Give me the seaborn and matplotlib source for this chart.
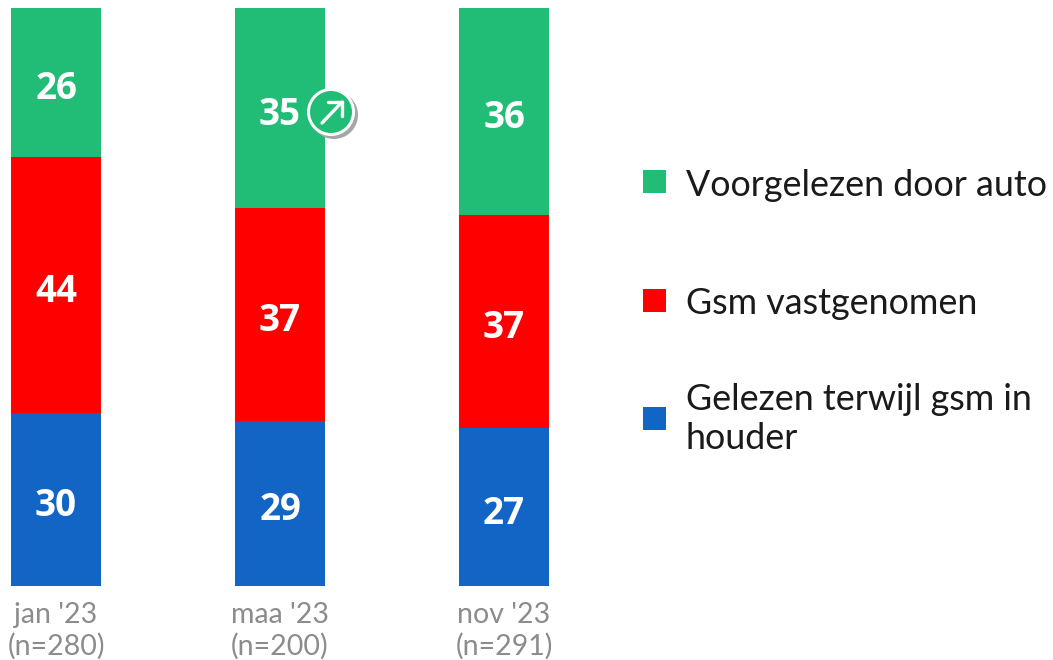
import matplotlib
matplotlib.use("Agg")
import matplotlib.pyplot as plt
import seaborn as sns
import pandas as pd
from matplotlib.patches import Circle, Rectangle

periods = ["jan '23\n(n=280)", "maa '23\n(n=200)", "nov '23\n(n=291)"]
gelezen = [29.9, 28.6, 27.3]
gsm = [44.4, 36.8, 36.9]
auto = [25.7, 34.6, 35.8]
series_names = ["Gelezen terwijl gsm in\nhouder", "Gsm vastgenomen", "Voorgelezen door auto"]
colors = ["#1265C4", "#FF0000", "#21BD76"]

sns.set_theme(style="white")
plt.rcParams['font.family'] = ['Lato', 'DejaVu Sans']

W, H = 1053, 660
fig = plt.figure(figsize=(W/100, H/100), dpi=100)
ax = fig.add_axes([0, 1-586/H, 1, 578/H])
ax.set_facecolor("none")

df = pd.DataFrame({"period": periods, series_names[0]: gelezen, series_names[1]: gsm, series_names[2]: auto})
bottom = [0, 0, 0]
for name, col in zip(series_names, colors):
    sns.barplot(data=df, x="period", y=name, color=col, bottom=bottom, ax=ax,
                width=0.4, saturation=1, errorbar=None, linewidth=0)
    vals = df[name].tolist()
    for i, v in enumerate(vals):
        ax.text(i, bottom[i] + v/2 - 1.15, f"{v:.0f}", ha="center", va="center", color="white",
                fontsize=26.5, fontweight="bold", family=["Open Sans", "DejaVu Sans"])
    bottom = [b + v for b, v in zip(bottom, vals)]

ax.set_xlim(-56/224, (W-56)/224)
ax.set_ylim(0, 100)
ax.set_xlabel(""); ax.set_ylabel("")
ax.set_yticks([])
ax.tick_params(axis="x", length=0, pad=11.5, labelsize=20.5, labelcolor="#8C8C8C")
for lab in ax.get_xticklabels():
    lab.set_linespacing(1.22)
sns.despine(ax=ax, left=True, bottom=True)

ov = fig.add_axes([0, 0, 1, 1])
ov.set_xlim(0, W); ov.set_ylim(H, 0); ov.axis("off"); ov.patch.set_alpha(0)

legend_rows = [(181, series_names[2], colors[2], 185),
               (300, series_names[1], colors[1], 303),
               (418, series_names[0], colors[0], 419)]
for y, label, col, ty in legend_rows:
    ov.add_patch(Rectangle((643, y-11.5), 23, 23, color=col, lw=0))
    ov.text(686, ty, label, ha="left", va="center", fontsize=25.8, color="#1A1A1A", linespacing=1.24)

cx, cy = 331, 112
ov.add_patch(Circle((cx+3, cy+3), 24, color="#A6A6A6", lw=0))
ov.add_patch(Circle((cx, cy), 24, color="white", lw=0))
ov.add_patch(Circle((cx, cy), 21, color="#21BD76", lw=0))
ov.plot([cx-9, cx+11], [cy+11, cy-10], color="white", lw=2.4, solid_capstyle="round")
ov.plot([cx-3, cx+11, cx+11], [cy-10, cy-10, cy+4], color="white", lw=2.4,
        solid_capstyle="round", solid_joinstyle="miter")

fig.savefig("out.png", dpi=100)
